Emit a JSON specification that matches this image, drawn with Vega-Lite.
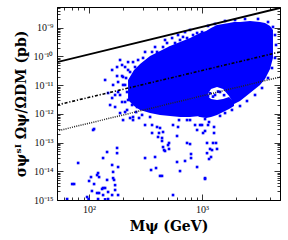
{
  "$schema": "https://vega.github.io/schema/vega-lite/v6.json",
  "autosize": "none",
  "width": 223,
  "height": 193,
  "padding": {"left": 57, "top": 7, "right": 8, "bottom": 40},
  "background": "white",
  "config": {
    "view": {"stroke": "black", "strokeWidth": 1},
    "axis": {"grid": false, "domainColor": "black", "tickColor": "black", "domainWidth": 1, "tickWidth": 0.8, "labelColor": "#111", "labelFont": "Liberation Serif", "labelFontSize": 10, "titleColor": "black", "titleFont": "DejaVu Serif", "titleFontWeight": "bold", "titleFontSize": 14}
  },
  "datasets": {
    "core": [
      {"M": 221.4, "hi": 1.52e-11, "lo": 3.05e-12, "part": "A"},
      {"M": 250, "hi": 3.39e-11, "lo": 1.88e-12, "part": "A"},
      {"M": 282.6, "hi": 5.48e-11, "lo": 1.37e-12, "part": "A"},
      {"M": 346.6, "hi": 1.04e-10, "lo": 1.07e-12, "part": "A"},
      {"M": 424.7, "hi": 1.56e-10, "lo": 9.2e-13, "part": "A"},
      {"M": 520.7, "hi": 2.32e-10, "lo": 8.5e-13, "part": "A"},
      {"M": 638.4, "hi": 3.2e-10, "lo": 7.8e-13, "part": "A"},
      {"M": 783.0, "hi": 4.4e-10, "lo": 7.8e-13, "part": "A"},
      {"M": 960.7, "hi": 6.6e-10, "lo": 8.5e-13, "part": "A"},
      {"M": 1085, "hi": 7.7e-10, "lo": 3.88e-12, "part": "A"},
      {"M": 1201, "hi": 9.8e-10, "lo": 7.38e-12, "part": "A"},
      {"M": 1357, "hi": 1.25e-9, "lo": 8.65e-12, "part": "A"},
      {"M": 1535, "hi": 1.36e-9, "lo": 7.38e-12, "part": "A"},
      {"M": 1734, "hi": 1.47e-9, "lo": 4.21e-12, "part": "A"},
      {"M": 1919, "hi": 1.59e-9, "lo": 2.21e-12, "part": "A"},
      {"M": 2168, "hi": 1.59e-9, "lo": 2.81e-12, "part": "A"},
      {"M": 2660, "hi": 1.73e-9, "lo": 5.35e-12, "part": "A"},
      {"M": 3260, "hi": 1.59e-9, "lo": 1.02e-11, "part": "A"},
      {"M": 3610, "hi": 1.47e-9, "lo": 1.64e-11, "part": "A"},
      {"M": 4000, "hi": 1.16e-9, "lo": 3.66e-11, "part": "A"},
      {"M": 4246, "hi": 8.4e-10, "lo": 8.9e-11, "part": "A"},
      {"M": 930, "hi": 1.2e-12, "lo": 8.0e-13, "part": "B"},
      {"M": 1085, "hi": 4.6e-12, "lo": 7.2e-13, "part": "B"},
      {"M": 1201, "hi": 3.3e-12, "lo": 7.8e-13, "part": "B"},
      {"M": 1357, "hi": 3.05e-12, "lo": 9.2e-13, "part": "B"},
      {"M": 1535, "hi": 3.3e-12, "lo": 1.16e-12, "part": "B"},
      {"M": 1734, "hi": 3.9e-12, "lo": 1.48e-12, "part": "B"},
      {"M": 1919, "hi": 2.6e-12, "lo": 1.88e-12, "part": "B"}
    ],
    "pts": [
      {"M": 110.7, "s": 2.98e-13}, {"M": 80.0, "s": 1.95e-14}, {"M": 176.9, "s": 6.5e-14}, {"M": 176.9, "s": 4.3e-14},
      {"M": 144.3, "s": 4.7e-14}, {"M": 133.0, "s": 2.9e-14}, {"M": 159.9, "s": 1.66e-14}, {"M": 180.6, "s": 1.41e-14},
      {"M": 163.1, "s": 9.5e-15}, {"M": 120.1, "s": 8.7e-15}, {"M": 117.7, "s": 7.4e-15}, {"M": 104, "s": 6.3e-15},
      {"M": 122.6, "s": 6.3e-15}, {"M": 100, "s": 4.6e-15}, {"M": 70.8, "s": 3.6e-15}, {"M": 73.7, "s": 3.6e-15},
      {"M": 110.7, "s": 3.6e-15}, {"M": 144.3, "s": 5.0e-15}, {"M": 163.1, "s": 5.8e-15}, {"M": 166.4, "s": 5.0e-15},
      {"M": 169.9, "s": 3.3e-15}, {"M": 133.0, "s": 2.62e-15}, {"M": 130.3, "s": 2.42e-15}, {"M": 138.6, "s": 2.62e-15},
      {"M": 147.3, "s": 1.9e-15}, {"M": 106, "s": 2.06e-15}, {"M": 117.7, "s": 1.75e-15}, {"M": 122.6, "s": 1.75e-15},
      {"M": 169.9, "s": 2.23e-15}, {"M": 180.6, "s": 1.49e-15}, {"M": 159.9, "s": 1.49e-15}, {"M": 133.0, "s": 1.49e-15},
      {"M": 96.0, "s": 1.27e-15}, {"M": 138.6, "s": 1.05e-15}, {"M": 147.3, "s": 1.08e-15}, {"M": 63.9, "s": 1.08e-15},
      {"M": 120.1, "s": 1.08e-15}, {"M": 99, "s": 1.08e-15}, {"M": 553.4, "s": 1.49e-15},
      {"M": 313, "s": 2.9e-14}, {"M": 383.7, "s": 3.15e-14}, {"M": 353.7, "s": 1.11e-14}, {"M": 391.5, "s": 1.3e-14},
      {"M": 424.7, "s": 6.9e-15}, {"M": 442.4, "s": 6.9e-15}, {"M": 442.4, "s": 1.14e-13}, {"M": 510.2, "s": 9.7e-14},
      {"M": 460.8, "s": 5.5e-14}, {"M": 470.2, "s": 5.1e-14}, {"M": 510.2, "s": 6.0e-14}, {"M": 600.7, "s": 1.7e-13},
      {"M": 736.5, "s": 9.7e-14}, {"M": 783, "s": 8.9e-14}, {"M": 799, "s": 4.0e-14}, {"M": 799, "s": 2.9e-14},
      {"M": 706.9, "s": 2.29e-14}, {"M": 600.7, "s": 2.11e-14}, {"M": 638.4, "s": 1.02e-14}, {"M": 903.7, "s": 1.41e-14},
      {"M": 1063, "s": 5.8e-15}, {"M": 361, "s": 2.16e-13}, {"M": 451.5, "s": 2.34e-13}, {"M": 416.1, "s": 2.16e-13},
      {"M": 424.7, "s": 3.23e-13}, {"M": 313, "s": 4.1e-13}, {"M": 361, "s": 4.1e-13}, {"M": 276.9, "s": 7.2e-13},
      {"M": 245, "s": 6.1e-13}, {"M": 230.6, "s": 7.2e-13}, {"M": 199.9, "s": 6.1e-13}, {"M": 553.4, "s": 4.1e-13},
      {"M": 625.6, "s": 6.1e-13}, {"M": 736.5, "s": 6.1e-13}, {"M": 867.3, "s": 4.1e-13}, {"M": 960.7, "s": 4.1e-13},
      {"M": 1063, "s": 6.6e-13}, {"M": 1021, "s": 2.16e-13}, {"M": 783, "s": 6.1e-13}, {"M": 613, "s": 3.5e-13},
      {"M": 903.7, "s": 2.75e-13},
      {"M": 1153, "s": 5.2e-13}, {"M": 1000, "s": 4.1e-13}, {"M": 1130, "s": 4.1e-13}, {"M": 1277, "s": 3.5e-13},
      {"M": 1063, "s": 2.54e-13}, {"M": 1277, "s": 2.16e-13}, {"M": 1107, "s": 9.7e-14}, {"M": 1251, "s": 9.7e-14},
      {"M": 1330, "s": 9.7e-14}, {"M": 1177, "s": 6.0e-14}, {"M": 1357, "s": 6.0e-14}, {"M": 1226, "s": 5.5e-14},
      {"M": 1107, "s": 4.3e-14}, {"M": 1201, "s": 3.15e-14}, {"M": 1153, "s": 2.68e-14}, {"M": 1063, "s": 5.4e-15},
      {"M": 1443, "s": 8.5e-13}, {"M": 1598, "s": 1.07e-12}, {"M": 1841, "s": 1.37e-12}, {"M": 2168, "s": 1.88e-12},
      {"M": 2500, "s": 2.81e-12}, {"M": 2945, "s": 4.56e-12}, {"M": 3396, "s": 7.98e-12}, {"M": 3838, "s": 1.78e-11},
      {"M": 4162, "s": 3.97e-11}, {"M": 4426, "s": 8.9e-11}, {"M": 4518, "s": 2.52e-10}, {"M": 4426, "s": 5.6e-10},
      {"M": 4246, "s": 1.07e-9}, {"M": 3838, "s": 1.59e-9}, {"M": 3131, "s": 2.03e-9}, {"M": 2402, "s": 2.03e-9},
      {"M": 1959, "s": 1.87e-9}, {"M": 1598, "s": 1.73e-9}, {"M": 1303, "s": 1.36e-9}, {"M": 1130, "s": 1.16e-9},
      {"M": 1177, "s": 5.2e-12}, {"M": 1303, "s": 4.56e-12}, {"M": 1443, "s": 5.8e-12}, {"M": 1251, "s": 4.0e-12},
      {"M": 1567, "s": 4.5e-12}, {"M": 1387, "s": 6.0e-12}, {"M": 1130, "s": 4.3e-12},
      {"M": 176.9, "s": 4.3e-11}, {"M": 208.3, "s": 4.3e-11}, {"M": 195.9, "s": 2.09e-11}, {"M": 176.9, "s": 2.09e-11},
      {"M": 163.1, "s": 1.02e-11}, {"M": 199.9, "s": 1.02e-11}, {"M": 147.3, "s": 5.35e-12}, {"M": 180.6, "s": 5.79e-12},
      {"M": 208.3, "s": 2.6e-12}, {"M": 169.9, "s": 1.74e-12}, {"M": 108.5, "s": 2.75e-13}, {"M": 230.6, "s": 6.81e-12},
      {"M": 240.2, "s": 3.88e-12}, {"M": 188, "s": 1.07e-12}, {"M": 245, "s": 7.8e-13}, {"M": 294.4, "s": 9.2e-13},
      {"M": 346.6, "s": 7.8e-13}, {"M": 399.6, "s": 3.5e-13}, {"M": 442.4, "s": 1.45e-13}, {"M": 451.5, "s": 7.0e-14},
      {"M": 499.9, "s": 8.2e-14}, {"M": 407.8, "s": 1.57e-13}, {"M": 216.9, "s": 1.37e-12}, {"M": 265.9, "s": 1.74e-12},
      {"M": 195.9, "s": 2.6e-12}, {"M": 159.9, "s": 3.58e-12},
      {"M": 199.9, "s": 1.93e-11}, {"M": 255.2, "s": 4.3e-11}, {"M": 300.4, "s": 8.9e-11}, {"M": 332.6, "s": 6.4e-11},
      {"M": 361, "s": 1.44e-10}, {"M": 424.7, "s": 1.13e-10}, {"M": 451.5, "s": 2.14e-10}, {"M": 520.7, "s": 1.98e-10},
      {"M": 576.6, "s": 2.95e-10}, {"M": 638.4, "s": 3.76e-10}, {"M": 736.5, "s": 4.4e-10}, {"M": 832.5, "s": 5.6e-10},
      {"M": 1000, "s": 7.1e-10}, {"M": 282.6, "s": 3.97e-11}, {"M": 230.6, "s": 2.88e-11}, {"M": 399.6, "s": 1.44e-10},
      {"M": 489.9, "s": 2.95e-10}, {"M": 678.5, "s": 4.8e-10}, {"M": 903.7, "s": 6.6e-10}, {"M": 208.3, "s": 1.02e-11},
      {"M": 245, "s": 1.78e-11}, {"M": 313, "s": 1.44e-10}, {"M": 383.7, "s": 2.14e-10}, {"M": 470.2, "s": 3.76e-10},
      {"M": 543, "s": 4.4e-10}, {"M": 613, "s": 5.6e-10}, {"M": 706.9, "s": 7.1e-10}, {"M": 783, "s": 8.4e-10},
      {"M": 271.5, "s": 7.55e-11}, {"M": 221.4, "s": 6.4e-11}, {"M": 188, "s": 7.55e-11}, {"M": 159.9, "s": 3.39e-11},
      {"M": 138.6, "s": 1.52e-11}, {"M": 169.9, "s": 4.56e-12}, {"M": 153.5, "s": 2.04e-12},
      {"M": 221.4, "s": 3.39e-11}, {"M": 255.2, "s": 2.26e-11}, {"M": 230.6, "s": 1.29e-11}, {"M": 271.5, "s": 1.02e-11},
      {"M": 216.9, "s": 5.79e-12}, {"M": 255.2, "s": 4.56e-12}, {"M": 265.9, "s": 3.05e-12}, {"M": 240.2, "s": 2.04e-12},
      {"M": 208.3, "s": 1.16e-12}, {"M": 188, "s": 4.56e-12}, {"M": 221.4, "s": 3.05e-12}, {"M": 260.6, "s": 1.16e-12},
      {"M": 195.9, "s": 5.06e-11}, {"M": 245, "s": 6.4e-11}, {"M": 271.5, "s": 2.88e-11}, {"M": 212.5, "s": 1.78e-11},
      {"M": 180.6, "s": 1.29e-11}, {"M": 265.9, "s": 6.81e-12}
    ],
    "lines": [
      {"M": 52, "s": 6.4e-11, "k": "solid"}, {"M": 4900, "s": 4.9e-9, "k": "solid"},
      {"M": 52, "s": 2.04e-12, "k": "dashdot"}, {"M": 4900, "s": 1.44e-10, "k": "dashdot"},
      {"M": 52, "s": 2.54e-13, "k": "dotted"}, {"M": 4900, "s": 1.93e-11, "k": "dotted"}
    ]
  },
  "resolve": {"axis": {"x": "independent", "y": "independent"}},
  "layer": [
    {
      "data": {"name": "core"},
      "mark": {"type": "area", "color": "#0000ff", "clip": true, "opacity": 1},
      "encoding": {
        "x": {"field": "M", "type": "quantitative", "scale": {"type": "log", "domain": [52, 4900], "nice": false},
          "axis": {"orient": "bottom", "title": "Mψ (GeV)", "titlePadding": 5,
            "values": [60, 70, 80, 90, 100, 200, 300, 400, 500, 600, 700, 800, 900, 1000, 2000, 3000, 4000],
            "labelExpr": "datum.value == 100 ? '10²' : datum.value == 1000 ? '10³' : ''",
            "tickSize": {"condition": {"test": "datum.value == 100 || datum.value == 1000", "value": -6}, "value": -3},
            "labelPadding": 10}},
        "y": {"field": "hi", "type": "quantitative", "scale": {"type": "log", "domain": [1e-15, 5.3e-9], "nice": false},
          "axis": {"orient": "left", "title": "σψˢᴵ Ωψ/ΩDM (pb)", "titlePadding": 5,
            "values": [1e-15, 2e-15, 3e-15, 4e-15, 5e-15, 6e-15, 7e-15, 8e-15, 9e-15, 1e-14, 2e-14, 3e-14, 4e-14, 5e-14, 6e-14, 7e-14, 8e-14, 9e-14, 1e-13, 2e-13, 3e-13, 4e-13, 5e-13, 6e-13, 7e-13, 8e-13, 9e-13, 1e-12, 2e-12, 3e-12, 4e-12, 5e-12, 6e-12, 7e-12, 8e-12, 9e-12, 1e-11, 2e-11, 3e-11, 4e-11, 5e-11, 6e-11, 7e-11, 8e-11, 9e-11, 1e-10, 2e-10, 3e-10, 4e-10, 5e-10, 6e-10, 7e-10, 8e-10, 9e-10, 1e-9, 2e-9, 3e-9, 4e-9, 5e-9],
            "labelExpr": "datum.value == 1e-15 ? '10⁻¹⁵' : datum.value == 1e-14 ? '10⁻¹⁴' : datum.value == 1e-13 ? '10⁻¹³' : datum.value == 1e-12 ? '10⁻¹²' : datum.value == 1e-11 ? '10⁻¹¹' : datum.value == 1e-10 ? '10⁻¹⁰' : datum.value == 1e-9 ? '10⁻⁹' : ''",
            "tickSize": {"condition": {"test": "indexof([1e-15, 1e-14, 1e-13, 1e-12, 1e-11, 1e-10, 1e-9], datum.value) >= 0", "value": -6}, "value": -3},
            "labelPadding": 10}},
        "y2": {"field": "lo"},
        "detail": {"field": "part", "type": "nominal"}
      }
    },
    {
      "data": {"name": "pts"},
      "mark": {"type": "square", "size": 7, "color": "#0000ff", "filled": true, "opacity": 1, "clip": true},
      "encoding": {
        "x": {"field": "M", "type": "quantitative", "scale": {"type": "log", "domain": [52, 4900], "nice": false},
          "axis": {"orient": "top", "title": null, "labels": false,
            "values": [60, 70, 80, 90, 100, 200, 300, 400, 500, 600, 700, 800, 900, 1000, 2000, 3000, 4000],
            "tickSize": {"condition": {"test": "datum.value == 100 || datum.value == 1000", "value": -6}, "value": -3}}},
        "y": {"field": "s", "type": "quantitative", "scale": {"type": "log", "domain": [1e-15, 5.3e-9], "nice": false},
          "axis": {"orient": "right", "title": null, "labels": false,
            "values": [1e-15, 2e-15, 3e-15, 4e-15, 5e-15, 6e-15, 7e-15, 8e-15, 9e-15, 1e-14, 2e-14, 3e-14, 4e-14, 5e-14, 6e-14, 7e-14, 8e-14, 9e-14, 1e-13, 2e-13, 3e-13, 4e-13, 5e-13, 6e-13, 7e-13, 8e-13, 9e-13, 1e-12, 2e-12, 3e-12, 4e-12, 5e-12, 6e-12, 7e-12, 8e-12, 9e-12, 1e-11, 2e-11, 3e-11, 4e-11, 5e-11, 6e-11, 7e-11, 8e-11, 9e-11, 1e-10, 2e-10, 3e-10, 4e-10, 5e-10, 6e-10, 7e-10, 8e-10, 9e-10, 1e-9, 2e-9, 3e-9, 4e-9, 5e-9],
            "tickSize": {"condition": {"test": "indexof([1e-15, 1e-14, 1e-13, 1e-12, 1e-11, 1e-10, 1e-9], datum.value) >= 0", "value": -6}, "value": -3}}}
      }
    },
    {
      "data": {"name": "lines"},
      "transform": [{"filter": "datum.k == 'solid'"}],
      "mark": {"type": "line", "color": "black", "strokeWidth": 1.8, "clip": true},
      "encoding": {
        "x": {"field": "M", "type": "quantitative", "scale": {"type": "log", "domain": [52, 4900], "nice": false}, "axis": null},
        "y": {"field": "s", "type": "quantitative", "scale": {"type": "log", "domain": [1e-15, 5.3e-9], "nice": false}, "axis": null}
      }
    },
    {
      "data": {"name": "lines"},
      "transform": [{"filter": "datum.k == 'dashdot'"}],
      "mark": {"type": "line", "color": "black", "strokeWidth": 1.6, "strokeDash": [3, 1.8, 1.2, 1.8], "clip": true},
      "encoding": {
        "x": {"field": "M", "type": "quantitative", "scale": {"type": "log", "domain": [52, 4900], "nice": false}, "axis": null},
        "y": {"field": "s", "type": "quantitative", "scale": {"type": "log", "domain": [1e-15, 5.3e-9], "nice": false}, "axis": null}
      }
    },
    {
      "data": {"name": "lines"},
      "transform": [{"filter": "datum.k == 'dotted'"}],
      "mark": {"type": "line", "color": "#222", "strokeWidth": 1.5, "strokeDash": [1, 1.2], "clip": true},
      "encoding": {
        "x": {"field": "M", "type": "quantitative", "scale": {"type": "log", "domain": [52, 4900], "nice": false}, "axis": null},
        "y": {"field": "s", "type": "quantitative", "scale": {"type": "log", "domain": [1e-15, 5.3e-9], "nice": false}, "axis": null}
      }
    }
  ]
}
